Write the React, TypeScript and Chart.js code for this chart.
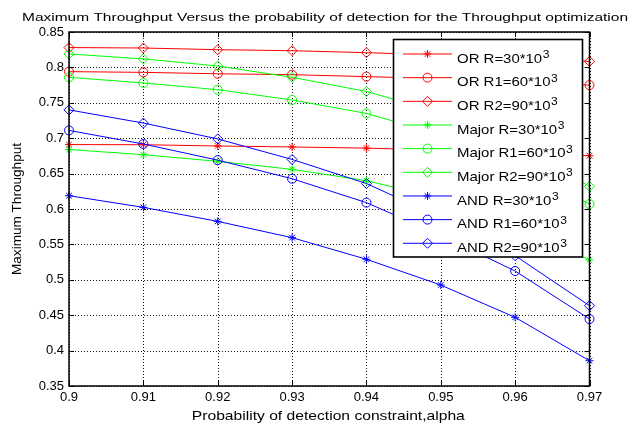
import React, { useEffect, useRef } from 'react';
import { Chart, registerables } from 'chart.js';
import { drawPoint } from 'chart.js/helpers';

Chart.register(...registerables);

// ---- data ----
const xValues = [0.9, 0.91, 0.92, 0.93, 0.94, 0.95, 0.96, 0.97];
const orR = [0.691, 0.6908, 0.689, 0.6876, 0.686, 0.683, 0.679, 0.6753];
const orR1 = [0.794, 0.793, 0.791, 0.7897, 0.787, 0.784, 0.78, 0.775];
const orR2 = [0.828, 0.8274, 0.825, 0.8236, 0.8208, 0.8175, 0.813, 0.8085];
const majorR = [0.684, 0.6767, 0.6673, 0.656, 0.64, 0.615, 0.578, 0.528];
const majorR1 = [0.786, 0.778, 0.7685, 0.754, 0.735, 0.705, 0.66, 0.607];
const majorR2 = [0.819, 0.812, 0.802, 0.786, 0.766, 0.736, 0.691, 0.632];
const andR = [0.6188, 0.6023, 0.5825, 0.5595, 0.529, 0.4926, 0.447, 0.3857];
const andR1 = [0.711, 0.6918, 0.669, 0.6428, 0.609, 0.563, 0.5124, 0.4446];
const andR2 = [0.74, 0.7214, 0.699, 0.67, 0.636, 0.588, 0.534, 0.4634];

const legendLabels = [
  'OR R=30*10',
  'OR R1=60*10',
  'OR R2=90*10',
  'Major R=30*10',
  'Major R1=60*10',
  'Major R2=90*10',
  'AND R=30*10',
  'AND R1=60*10',
  'AND R2=90*10',
];
const legendSup = '3';

const titleText = 'Maximum Throughput Versus the probability of detection for the Throughput optimization';
const xTitle = 'Probability of detection constraint,alpha';
const yTitle = 'Maximum Throughput';

const FONT = '"Liberation Sans", Arial, Helvetica, sans-serif';

export default function App() {
  const ref = useRef<HTMLCanvasElement>(null);

  useEffect(() => {
    if (!ref.current) return;
    const series = [orR, orR1, orR2, majorR, majorR1, majorR2, andR, andR1, andR2];
    const colors = ['#ff0000', '#ff0000', '#ff0000', '#00ff00', '#00ff00', '#00ff00', '#0000ff', '#0000ff', '#0000ff'];
    const styles = ['star', 'circle', 'rectRot', 'star', 'circle', 'rectRot', 'star', 'circle', 'rectRot'];
    const radiusOf = (s: string) => (s === 'star' ? 4 : s === 'circle' ? 4.5 : 5);

    const datasets = series.map((s, i) => ({
      label: legendLabels[i] + legendSup,
      data: s.map((y, j) => ({ x: xValues[j], y })),
      borderColor: colors[i],
      backgroundColor: 'rgba(0,0,0,0)',
      borderWidth: 1,
      pointStyle: styles[i],
      pointRadius: radiusOf(styles[i]),
      pointBorderWidth: 1,
      pointBorderColor: colors[i],
      pointBackgroundColor: 'rgba(0,0,0,0)',
      tension: 0,
      clip: false as any,
      order: 9 - i,
    }));

    const gridPlugin = {
      id: 'matlabGrid',
      beforeDatasetsDraw(chart: any) {
        const ctx = chart.ctx;
        const { left, right, top, bottom } = chart.chartArea;
        const xs = chart.scales.x;
        const ys = chart.scales.y;
        ctx.save();
        ctx.strokeStyle = '#111';
        ctx.lineWidth = 1;
        ctx.setLineDash([1, 2]);
        ctx.beginPath();
        xs.ticks.forEach((t: any) => {
          const px = Math.round(xs.getPixelForValue(t.value)) + 0.5;
          ctx.moveTo(px, top);
          ctx.lineTo(px, bottom);
        });
        ys.ticks.forEach((t: any) => {
          const py = Math.round(ys.getPixelForValue(t.value)) + 0.5;
          ctx.moveTo(left, py);
          ctx.lineTo(right, py);
        });
        ctx.stroke();
        ctx.restore();
      },
      afterDraw(chart: any) {
        const ctx = chart.ctx;
        const { left, right, top, bottom } = chart.chartArea;
        const xs = chart.scales.x;
        const ys = chart.scales.y;
        ctx.save();
        ctx.setLineDash([]);
        // axes box
        ctx.strokeStyle = '#000';
        ctx.lineWidth = 1.5;
        ctx.strokeRect(left, top, right - left, bottom - top);
        // inward ticks
        const tl = 5;
        ctx.lineWidth = 1;
        ctx.beginPath();
        xs.ticks.forEach((t: any) => {
          const px = Math.round(xs.getPixelForValue(t.value)) + 0.5;
          ctx.moveTo(px, bottom);
          ctx.lineTo(px, bottom - tl);
          ctx.moveTo(px, top);
          ctx.lineTo(px, top + tl);
        });
        ys.ticks.forEach((t: any) => {
          const py = Math.round(ys.getPixelForValue(t.value)) + 0.5;
          ctx.moveTo(left, py);
          ctx.lineTo(left + tl, py);
          ctx.moveTo(right, py);
          ctx.lineTo(right - tl, py);
        });
        ctx.stroke();

        // legend
        const lx0 = 393.5, ly0 = 39.5, lx1 = 582.5, ly1 = 257;
        ctx.fillStyle = '#fff';
        ctx.fillRect(lx0, ly0, lx1 - lx0, ly1 - ly0);
        ctx.strokeStyle = '#000';
        ctx.lineWidth = 1.6;
        ctx.strokeRect(lx0, ly0, lx1 - lx0, ly1 - ly0);
        legendLabels.forEach((lab, i) => {
          const cy = 54 + i * 23.66;
          ctx.strokeStyle = colors[i];
          ctx.lineWidth = 1;
          ctx.beginPath();
          ctx.moveTo(403, cy);
          ctx.lineTo(452, cy);
          ctx.stroke();
          ctx.fillStyle = 'rgba(0,0,0,0)';
          drawPoint(ctx, { pointStyle: styles[i] as any, radius: radiusOf(styles[i]), borderWidth: 1, rotation: 0 } as any, 427.5, cy);
          ctx.save();
          ctx.translate(457, cy + 8.6);
          ctx.scale(1.15, 1);
          ctx.fillStyle = '#000';
          ctx.font = `13px ${FONT}`;
          ctx.textAlign = 'left';
          ctx.textBaseline = 'alphabetic';
          ctx.fillText(lab, 0, 0);
          const w = ctx.measureText(lab).width;
          ctx.font = `10.5px ${FONT}`;
          ctx.fillText(legendSup, w + 0.5, -4.5);
          ctx.restore();
        });

        // title
        ctx.fillStyle = '#000';
        ctx.textBaseline = 'alphabetic';
        ctx.textAlign = 'center';
        ctx.font = `11.6px ${FONT}`;
        let w = ctx.measureText(titleText).width;
        ctx.save();
        ctx.translate(325, 21);
        ctx.scale(606 / w, 1);
        ctx.fillText(titleText, 0, 0);
        ctx.restore();

        // x title
        ctx.font = `13px ${FONT}`;
        w = ctx.measureText(xTitle).width;
        ctx.save();
        ctx.translate(328.3, 420);
        ctx.scale(273 / w, 1);
        ctx.fillText(xTitle, 0, 0);
        ctx.restore();

        // y title
        w = ctx.measureText(yTitle).width;
        ctx.save();
        ctx.translate(21, 209);
        ctx.rotate(-Math.PI / 2);
        ctx.scale(132 / w, 1);
        ctx.fillText(yTitle, 0, 0);
        ctx.restore();

        ctx.restore();
      },
    };

    const fmt = (v: any) => String(parseFloat(Number(v).toFixed(2)));

    const chart = new Chart(ref.current, {
      type: 'line',
      data: { datasets: datasets as any },
      options: {
        animation: false,
        responsive: false,
        maintainAspectRatio: false,
        layout: { padding: { top: 32, right: 40.5, left: 0, bottom: 0 } },
        plugins: { legend: { display: false }, title: { display: false }, tooltip: { enabled: false } },
        elements: { line: { borderWidth: 1 } },
        scales: {
          x: {
            type: 'linear',
            min: 0.9,
            max: 0.97,
            grid: { display: false, drawTicks: false },
            border: { display: false },
            ticks: { stepSize: 0.01, callback: fmt, color: '#000', font: { family: FONT, size: 13 }, padding: 4, maxRotation: 0, autoSkip: false },
            afterFit: (scale: any) => { scale.height = 39; },
          },
          y: {
            type: 'linear',
            min: 0.35,
            max: 0.85,
            grid: { display: false, drawTicks: false },
            border: { display: false },
            ticks: { stepSize: 0.05, callback: fmt, color: '#000', font: { family: FONT, size: 13 }, padding: 5, autoSkip: false },
            afterFit: (scale: any) => { scale.width = 69; },
          },
        },
      } as any,
      plugins: [gridPlugin],
    });
    return () => chart.destroy();
  }, []);

  return (
    <div style={{ position: 'absolute', left: 0, top: 0, width: 630, height: 425, background: '#fff' }}>
      <canvas ref={ref} width={630} height={425} style={{ display: 'block', width: 630, height: 425 }} />
    </div>
  );
}
